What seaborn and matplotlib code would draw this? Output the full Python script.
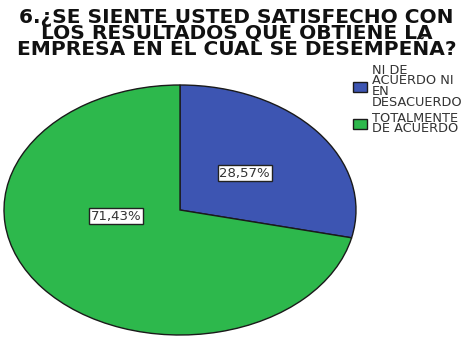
import matplotlib
matplotlib.use("Agg")
import matplotlib.pyplot as plt
import seaborn as sns

sns.set_theme(style="white")
plt.rcParams['font.family'] = ['DejaVu Sans']

categories = ["NI DE\nACUERDO NI\nEN\nDESACUERDO", "TOTALMENTE\nDE ACUERDO"]
values = [28.57, 71.43]
pct_labels = ["28,57%", "71,43%"]
colors = ["#3D55B2", "#2DB84C"]
title = "6.¿SE SIENTE USTED SATISFECHO CON\nLOS RESULTADOS QUE OBTIENE LA\nEMPRESA EN EL CUAL SE DESEMPEÑA?"

fig = plt.figure(figsize=(4.71, 3.53), dpi=100)
fig.patch.set_facecolor("white")
ax = fig.add_axes([4/471, 1 - 335/353, 352/471, 250/353])

wedges, texts = ax.pie(values, colors=colors, startangle=90, counterclock=False,
                       wedgeprops=dict(edgecolor="#1a1a1a", linewidth=1.0),
                       labels=pct_labels, labeldistance=0.47)
ax.set_aspect("auto")
ax.set_xlim(-1.0, 1.0)
ax.set_ylim(-1.0, 1.0)
ax.axis("off")

for t in texts:
    t.set_ha("center")
    t.set_va("center")
    t.set_fontsize(9.5)
    t.set_color("#333333")
    t.set_bbox(dict(boxstyle="square,pad=0.12", facecolor="white", edgecolor="#222222", linewidth=1.0))
# SPSS places the larger slice label nearer the centre line
texts[1].set_position((-0.364, -0.05))

fig.text(0.502, 0.977, title, ha="center", va="top", fontsize=14.5, fontweight="bold",
         linespacing=0.78, color="#111111")

leg = fig.legend(wedges, categories, loc="upper left", bbox_to_anchor=(353/471, 1 - 64/353),
                 frameon=False, fontsize=9.3, handlelength=1.05, handleheight=0.8,
                 handletextpad=0.4, labelspacing=0.25, borderaxespad=0, borderpad=0)
for t in leg.get_texts():
    t.set_linespacing(0.75)
    t.set_color("#333333")

fig.savefig("out.png", dpi=100)
